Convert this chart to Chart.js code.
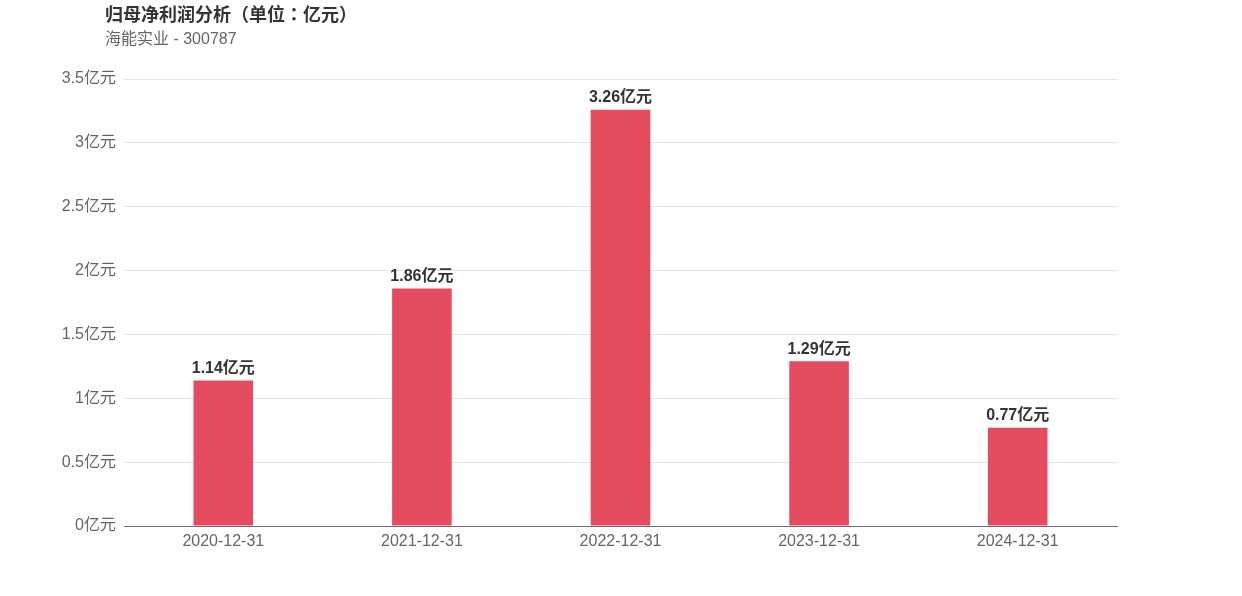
<!DOCTYPE html>
<html><head><meta charset="utf-8">
<script src="https://cdn.jsdelivr.net/npm/chart.js@4/dist/chart.umd.min.js"></script>
<style>
html,body{margin:0;padding:0;background:#fff;}
#wrap{position:relative;width:1242px;height:596px;}
#t{position:absolute;left:105px;top:0px;font:bold 18px "Liberation Sans","Noto Sans CJK SC",sans-serif;color:#333;line-height:26px;}
#t .p{font-family:"Noto Sans CJK TC",sans-serif;}
#s{position:absolute;left:105px;top:28px;font:16px "Liberation Sans","Noto Sans CJK SC",sans-serif;color:#666;line-height:22px;}
canvas{position:absolute;left:0;top:0;}
</style></head><body>
<div id="wrap">
<canvas id="c" width="1242" height="596"></canvas>
<div id="t">归母净利润分析<span class="p">（</span>单位<span class="p">：</span>亿元<span class="p">）</span></div>
<div id="s">海能实业 - 300787</div>
</div>
<script>
const categories = ["2020-12-31","2021-12-31","2022-12-31","2023-12-31","2024-12-31"];
const profits = [1.14, 1.86, 3.26, 1.29, 0.77];
const unit = "亿元";
const FONT = '"Liberation Sans","Noto Sans CJK SC",sans-serif';

const labelPlugin = {
  id: 'barLabels',
  afterDatasetsDraw(chart) {
    const ctx = chart.ctx;
    const meta = chart.getDatasetMeta(0);
    ctx.save();
    ctx.font = 'bold 16px ' + FONT;
    ctx.fillStyle = '#333';
    ctx.textAlign = 'center';
    ctx.textBaseline = 'bottom';
    meta.data.forEach((bar, i) => {
      ctx.fillText(profits[i] + unit, bar.x, bar.y - 4);
    });
    ctx.restore();
  }
};

new Chart(document.getElementById('c'), {
  type: 'bar',
  data: {
    labels: categories,
    datasets: [{
      data: profits,
      backgroundColor: '#e54b5e',
      barPercentage: 0.3,
      categoryPercentage: 1.0
    }]
  },
  options: {
    responsive: false,
    animation: false,
    layout: { padding: { top: 79, right: 125, bottom: 0, left: 0 } },
    plugins: { legend: { display: false }, tooltip: { enabled: false } },
    scales: {
      x: {
        grid: { display: false, drawTicks: false },
        border: { display: true, color: '#6e7079', width: 1 },
        ticks: { color: '#666', font: { size: 16, family: FONT }, padding: 6, maxRotation: 0 },
        afterFit(s) { s.height = 70; }
      },
      y: {
        min: 0, max: 3.5,
        grid: { color: '#e0e6f1', drawTicks: false },
        border: { display: false },
        ticks: {
          stepSize: 0.5,
          color: '#666',
          font: { size: 16, family: FONT },
          padding: 8,
          callback: v => v + unit
        },
        afterFit(s) { s.width = 124; }
      }
    }
  },
  plugins: [labelPlugin]
});
</script>
</body></html>
